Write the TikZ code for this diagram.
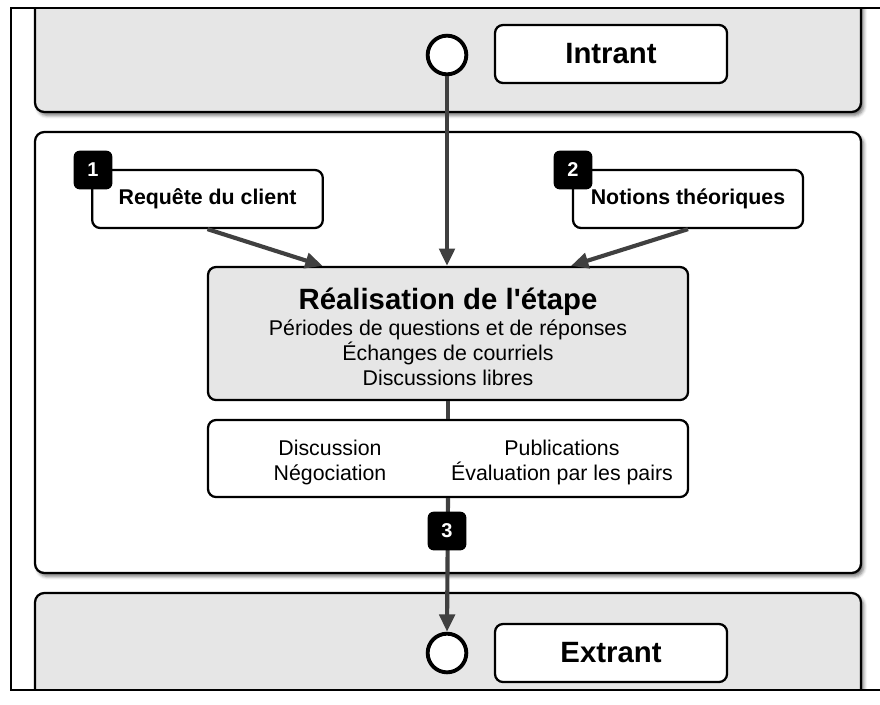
\documentclass[tikz,border=0pt]{standalone}
\usepackage{fontspec}
\setmainfont{Liberation Sans}[Ligatures=TeXOff]
\usetikzlibrary{shadows.blur,arrows.meta,calc}
\definecolor{bandgray}{HTML}{E6E6E6}
\definecolor{arrgray}{HTML}{404040}
\begin{document}
\begin{tikzpicture}[x=0.75pt,y=-0.75pt,
  band/.style={draw=black, line width=1.7pt, rounded corners=7pt,
    blur shadow={shadow xshift=2pt, shadow yshift=-2.5pt, shadow blur radius=2.5pt, shadow opacity=55},
    minimum width=619.5pt, inner sep=0pt},
  box/.style={draw=black, line width=1.7pt, rounded corners=6pt, fill=white, inner sep=0pt,
    font=\fontsize{16}{19}\selectfont\bfseries},
  bigbox/.style={box, minimum width=174pt, minimum height=43.5pt, font=\fontsize{22}{26}\selectfont\bfseries},
  smallbox/.style={box, minimum width=173pt, minimum height=43.5pt},
  badge/.style={fill=black, rounded corners=4.5pt, minimum size=29pt, inner sep=0pt,
    text=white, font=\fontsize{15}{18}\selectfont\bfseries},
  port/.style={circle, draw=black, line width=2.9pt, fill=white, minimum size=29pt, inner sep=0pt},
  arr/.style={draw=arrgray, line width=3.1pt, -{Triangle[length=13pt,width=11.5pt]}},
  link/.style={draw=arrgray, line width=3.1pt},
  txt/.style={align=center, font=\fontsize{16}{18.75}\selectfont}
]
\useasboundingbox (0,0) rectangle (880,704);
\begin{scope}
\clip (11,8) rectangle (880,690);
% bands
\node[band, fill=bandgray, minimum height=99pt] (topband) at (448,46) {};
\node[band, fill=white, minimum height=330.75pt] (midband) at (448,352.5) {};
\node[band, fill=bandgray, minimum height=95.25pt] (botband) at (448,656.5) {};
% input
\node[port] (cin) at (447,55) {};
\node[bigbox] (intrant) at (611,54) {Intrant};
% sources
\node[smallbox] (req) at (207.5,199) {Requête du client};
\node[badge] (b1) at (93,170) {1};
\node[smallbox, minimum width=172.5pt] (notions) at (688,199) {Notions théoriques};
\node[badge] (b2) at (573,170) {2};
% main
\node[box, fill=bandgray, minimum width=360pt, minimum height=99.75pt, align=center,
  font=\fontsize{16}{19}\selectfont] (main) at (448,333.5)
  {\rule{0pt}{21.5pt}{\fontsize{22}{19}\selectfont\bfseries Réalisation de l'étape}\\Périodes de questions et de réponses\\Échanges de courriels\\Discussions libres};
\node[box, minimum width=360pt, minimum height=57.75pt] (sub) at (448,458.5) {};
\node[txt] (t1) at ($(sub.center)+(-118,4)$) {Discussion\\Négociation};
\node[txt] (t2) at ($(sub.center)+(114,4)$) {Publications\\Évaluation par les pairs};
% output
\node[port] (cout) at (447,653) {};
\node[bigbox] (extrant) at (611,653) {Extrant};
% connectors
\draw[arr] (cin.south) -- (cin.south |- main.north);
\draw[arr] (req.south) -- ($(main.north west)!0.24!(main.north east)$);
\draw[arr] (notions.south) -- ($(main.north west)!0.755!(main.north east)$);
\draw[link] (main.south) -- (sub.north);
\draw[arr] (sub.south) -- (cout.north);
\node[badge] (b3) at (447,531) {3};
\end{scope}
\draw[line width=1.5pt] (884,8) -- (11,8) -- (11,690) -- (884,690);
\end{tikzpicture}
\end{document}
